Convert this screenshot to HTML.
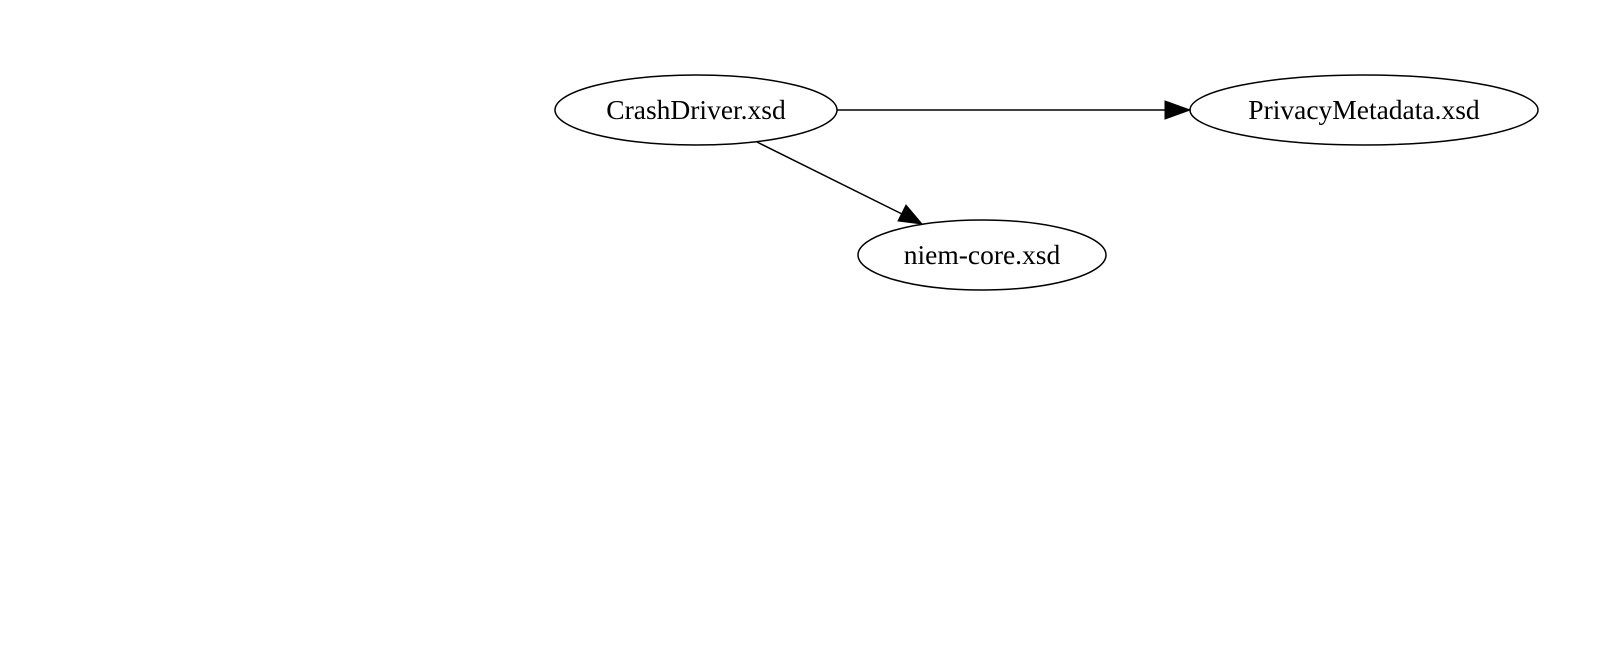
<!DOCTYPE html>
<html><head><style>html,body{margin:0;padding:0;background:#fff;width:1607px;height:645px;overflow:hidden}</style></head>
<body>
<svg width="1607" height="645" xmlns="http://www.w3.org/2000/svg" font-family="Liberation Serif, serif" font-size="27.5">
<rect width="1607" height="645" fill="#fff"/>
<g fill="none" stroke="#000" stroke-width="1.5">
<ellipse cx="696" cy="110" rx="141" ry="35"/>
<ellipse cx="1364" cy="110" rx="174" ry="35"/>
<ellipse cx="982" cy="255" rx="124" ry="35"/>
<line x1="837" y1="110" x2="1166" y2="110"/>
<line x1="757" y1="142" x2="902" y2="214"/>
</g>
<polygon points="1190,110 1165,101 1165,119" fill="#000" stroke="#000"/>
<polygon points="922,224 898,221 906,205" fill="#000" stroke="#000"/>
<g text-anchor="middle" fill="#000">
<text x="696" y="119">CrashDriver.xsd</text>
<text x="1364" y="119">PrivacyMetadata.xsd</text>
<text x="982" y="264">niem-core.xsd</text>
</g>
</svg>
</body></html>
